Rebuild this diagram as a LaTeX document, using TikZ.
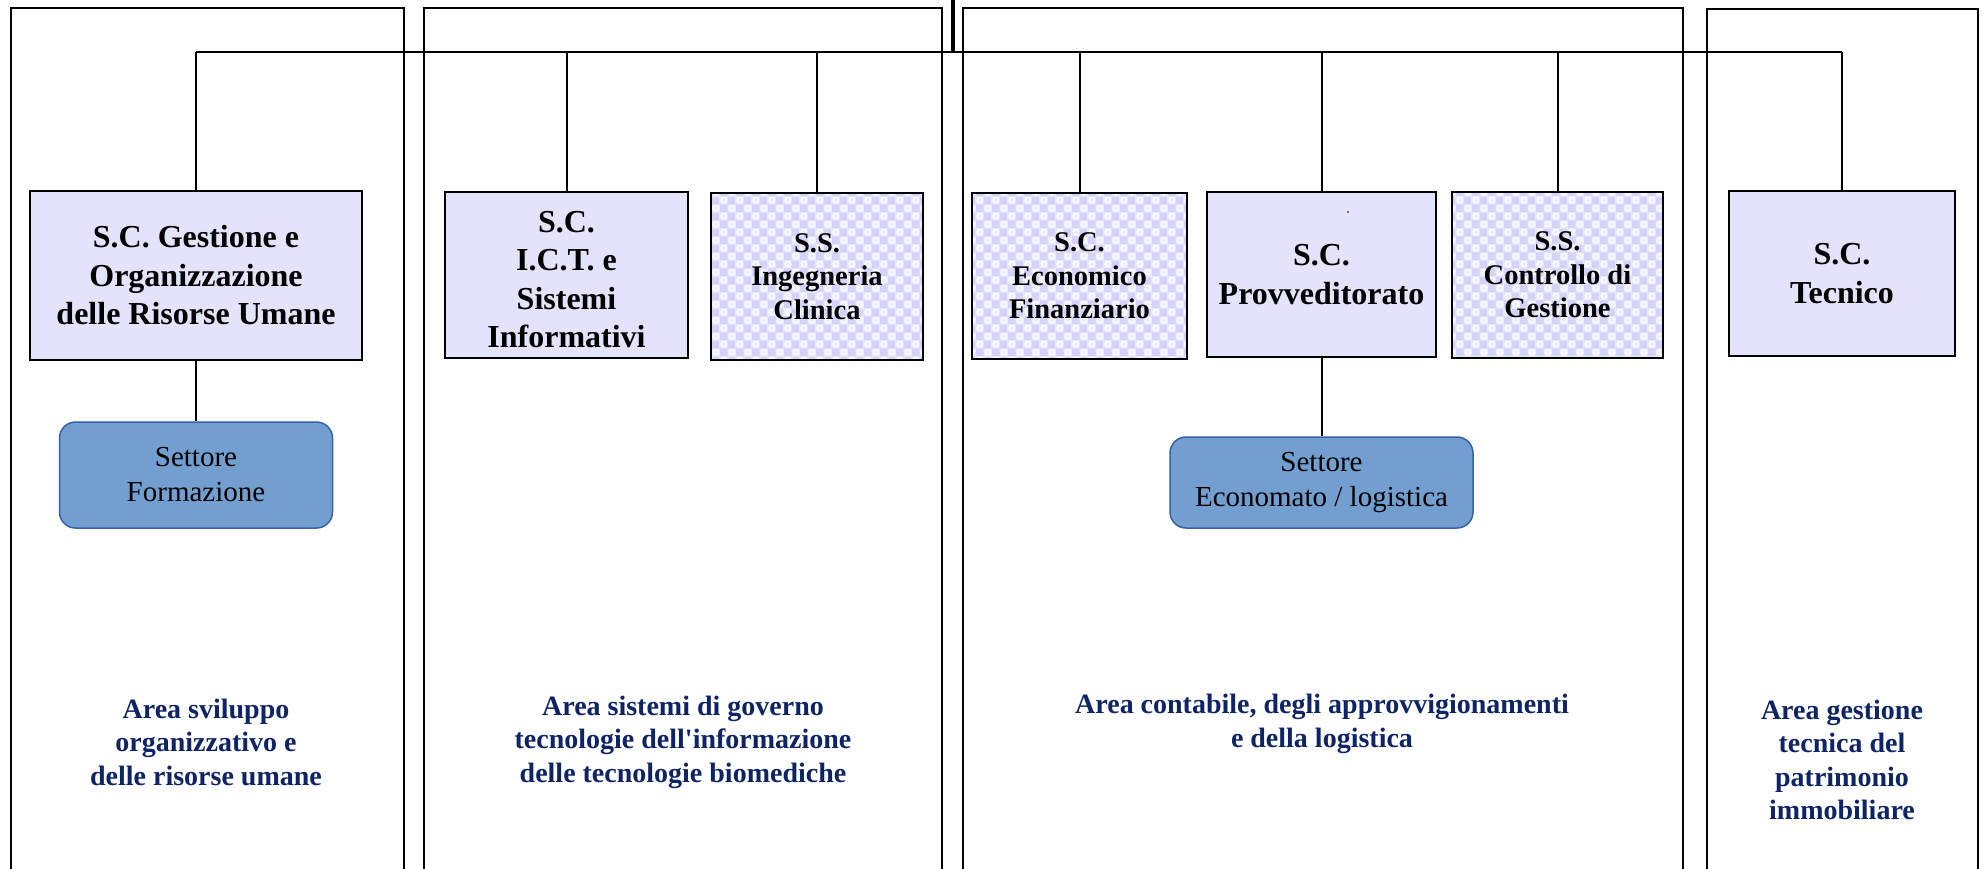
\documentclass[tikz,border=0pt]{standalone}
\usepackage{fontspec}
\setmainfont{Liberation Serif}
\usetikzlibrary{patterns}
\definecolor{lav}{RGB}{227,227,252}
\definecolor{lavbase}{RGB}{234,234,253}
\definecolor{lavchk}{RGB}{212,212,248}
\definecolor{setfill}{RGB}{114,159,207}
\definecolor{setdraw}{RGB}{54,99,168}
\definecolor{navy}{RGB}{14,36,100}
\pgfdeclarepatternformonly{lavchecker}{\pgfpointorigin}{\pgfqpoint{16pt}{16pt}}{\pgfqpoint{16pt}{16pt}}{%
  \pgfpathrectangle{\pgfpointorigin}{\pgfqpoint{8pt}{8pt}}%
  \pgfpathrectangle{\pgfqpoint{8pt}{8pt}}{\pgfqpoint{8pt}{8pt}}%
  \pgfusepath{fill}}
\pgfdeclarepatternformonly{lavrings}{\pgfqpoint{-1pt}{-1pt}}{\pgfqpoint{17pt}{17pt}}{\pgfqpoint{16pt}{16pt}}{%
  \pgfsetlinewidth{1.1pt}%
  \pgfpathcircle{\pgfqpoint{12pt}{4pt}}{2.6pt}%
  \pgfpathcircle{\pgfqpoint{4pt}{12pt}}{2.6pt}%
  \pgfusepath{stroke}}
\newcommand\fBig{\bfseries\fontsize{32}{38.5}\selectfont}
\newcommand\fMid{\bfseries\fontsize{28.5}{33.5}\selectfont}
\newcommand\fSet{\fontsize{29}{35}\selectfont}
\newcommand\fArea{\bfseries\fontsize{28}{33.5}\selectfont}
\begin{document}
\begin{tikzpicture}[x=1pt,y=-1pt,
  conn/.style={line width=2pt, draw=black},
  area/.style={line width=2.5pt, draw=black},
  scbox/.style={draw=black, line width=2pt, fill=lav, inner sep=0pt, align=center},
  ssbox/.style={draw=black, line width=2pt, inner sep=0pt, align=center,
    preaction={fill=lavbase},
    preaction={pattern=lavchecker, pattern color=lavchk},
    preaction={pattern=lavrings, pattern color=white}},
  setbox/.style={draw=setdraw, line width=1.5pt, fill=setfill, rounded corners=16pt, inner sep=0pt, align=center, font=\fSet},
  arealabel/.style={text=navy, align=center, inner sep=0pt, font=\fArea}]
\useasboundingbox (0,0) rectangle (1982,868);
\clip (0,0) rectangle (1982,868);
\fill[white] (0,0) rectangle (1982,868);
% area frames
\draw[area] (11,880) -- (11,8) -- (404,8) -- (404,880);
\draw[area] (424,880) -- (424,8) -- (942,8) -- (942,880);
\draw[area] (963,880) -- (963,8) -- (1683,8) -- (1683,880);
\draw[area] (1707,880) -- (1707,9) -- (1978,9) -- (1978,880);
% units
\node[scbox, minimum width=332, minimum height=169, font=\fBig] (gest) at (196,275.5) {S.C. Gestione e\\Organizzazione\\delle Risorse Umane};
\node[setbox, minimum width=273, minimum height=106] (form) at (196,475) {Settore\\Formazione};
\node[scbox, minimum width=243, minimum height=166, font=\fBig] (ict) at (566.5,275) {\rule{0pt}{30pt}S.C.\\I.C.T. e\\Sistemi\\Informativi};
\node[ssbox, minimum width=212, minimum height=167, font=\fMid] (ing) at (817,276.5) {S.S.\\Ingegneria\\Clinica};
\node[ssbox, minimum width=215, minimum height=166, font=\fMid] (eco) at (1079.5,276) {S.C.\\Economico\\Finanziario};
\node[scbox, minimum width=229, minimum height=165, font=\fBig] (prov) at (1321.5,274.5) {S.C.\\Provveditorato};
\node[ssbox, minimum width=211, minimum height=166, font=\fMid] (ctrl) at (1557.5,275) {S.S.\\Controllo di\\Gestione};
\node[scbox, minimum width=226, minimum height=165, font=\fBig] (tec) at (1842,273.5) {S.C.\\Tecnico};
\node[setbox, minimum width=303, minimum height=91] (econ) at (1321.5,482.5) {Settore\\Economato / logistica};
\fill (1348,212) circle (0.9);
% area labels
\node[arealabel] (l1) at (206,742) {Area sviluppo\\organizzativo e\\delle risorse umane};
\node[arealabel] (l2) at (683,742) {Area sistemi di governo\\tecnologie dell\textquotesingle informazione\\delle tecnologie biomediche};
\node[arealabel] (l3) at (1322,724) {Area contabile, degli approvvigionamenti\\e della logistica};
\node[arealabel] (l4) at (1842,760) {Area gestione\\tecnica del\\patrimonio\\immobiliare};
% connectors
\coordinate (bus) at (0,52);
\coordinate (topin) at (953,-2);
\draw[conn] (gest.north |- bus) -- (tec.north |- bus);
\foreach \n in {gest,ict,ing,eco,prov,ctrl,tec} \draw[conn] (\n.north) -- (\n.north |- bus);
\draw[line width=4pt] (topin) -- (topin |- bus);
\draw[conn] (gest.south) -- (gest.south |- form.north);
\draw[conn] (prov.south) -- (prov.south |- econ.north);
\end{tikzpicture}
\end{document}
